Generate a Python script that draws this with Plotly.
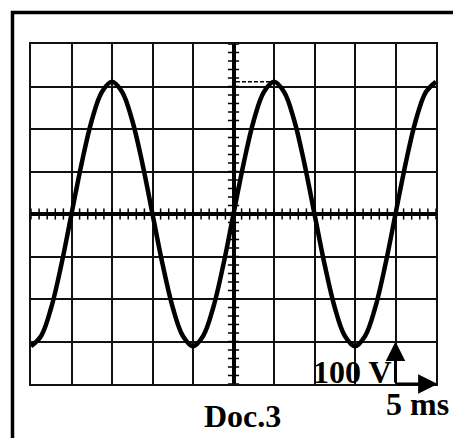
import plotly.graph_objects as go

# time (ms) and voltage (V)
t_ms = [-25 + 1.25 * i for i in range(41)]
u_volts = [-311, -287, -220, -119, 0, 119, 220, 287, 311, 287, 220, 119, 0,
           -119, -220, -287, -311, -287, -220, -119, 0, 119, 220, 287, 311,
           287, 220, 119, 0, -119, -220, -287, -311, -287, -220, -119, 0,
           119, 220, 287, 311]
u_max = 311
t_peak = 5
sens_v = 100      # V per division
sweep_ms = 5      # ms per division
x_range = [-25, 25]
y_range = [-400, 400]
minor_x = [-25 + i for i in range(51)]
minor_y = [-400 + 20 * i for i in range(41)]

fig = go.Figure()

# minor graduations on the central axes
fig.add_trace(go.Scatter(x=minor_x, y=[0] * len(minor_x), mode="markers",
                         marker=dict(symbol="line-ns", size=8,
                                     line=dict(width=1.5, color="black")),
                         hoverinfo="skip", cliponaxis=False))
fig.add_trace(go.Scatter(x=[0] * len(minor_y), y=minor_y, mode="markers",
                         marker=dict(symbol="line-ew", size=8,
                                     line=dict(width=1.5, color="black")),
                         hoverinfo="skip", cliponaxis=False))

# dashed line to the peak
fig.add_trace(go.Scatter(x=[0.3, t_peak], y=[u_max, u_max], mode="lines",
                         line=dict(color="black", width=1.5, dash="4px,2px"),
                         hoverinfo="skip"))

# the signal
fig.add_trace(go.Scatter(x=t_ms, y=u_volts, mode="lines",
                         line=dict(color="black", width=4.5, shape="spline"),
                         hoverinfo="skip"))

font = dict(family="Liberation Serif", size=32, color="black", weight="bold")

annotations = [
    # vertical sensitivity arrow
    dict(x=20, y=-400 + sens_v, ax=20, ay=-400, xref="x", yref="y",
         axref="x", ayref="y", showarrow=True, arrowhead=2, arrowsize=1.3,
         arrowwidth=3, arrowcolor="black", text="", standoff=0, startstandoff=0),
    # horizontal sweep arrow
    dict(x=20 + sweep_ms + 0.2, y=-400, ax=20, ay=-400, xref="x", yref="y",
         axref="x", ayref="y", showarrow=True, arrowhead=2, arrowsize=1.3,
         arrowwidth=3, arrowcolor="black", text="", standoff=0, startstandoff=0),
    dict(x=20, y=-400, xref="x", yref="y", text="100 V", showarrow=False,
         xanchor="right", yanchor="bottom", xshift=-2, yshift=-8, font=font),
    dict(x=0.955, y=-0.058, xref="paper", yref="paper", text="5 ms",
         showarrow=False, xanchor="center", yanchor="middle", font=font),
    dict(x=0.523, y=-0.095, xref="paper", yref="paper", text="Doc.3",
         showarrow=False, xanchor="center", yanchor="middle", font=font),
]

axis_common = dict(showticklabels=False, ticks="", showgrid=True,
                   gridcolor="#111111", gridwidth=1.5, zeroline=True,
                   zerolinecolor="black", zerolinewidth=4, showline=True,
                   linecolor="#111111", linewidth=1.5, mirror=True,
                   fixedrange=True)

fig.update_layout(
    width=453, height=438,
    margin=dict(l=31, r=17, t=44, b=54),
    paper_bgcolor="white", plot_bgcolor="white",
    showlegend=False,
    xaxis=dict(range=x_range, dtick=sweep_ms, tick0=0, **axis_common),
    yaxis=dict(range=y_range, dtick=sens_v, tick0=0, **axis_common),
    annotations=annotations,
    shapes=[dict(type="rect", xref="paper", yref="paper",
                 x0=-0.0457, y0=-0.4, x1=1.3, y1=1.0926,
                 line=dict(color="black", width=3.5), layer="above")],
)

fig.write_html(
    "out.html",
    config={"displayModeBar": False},
    post_script="document.body.style.margin='0';"
                "document.body.style.overflow='hidden';",
)
